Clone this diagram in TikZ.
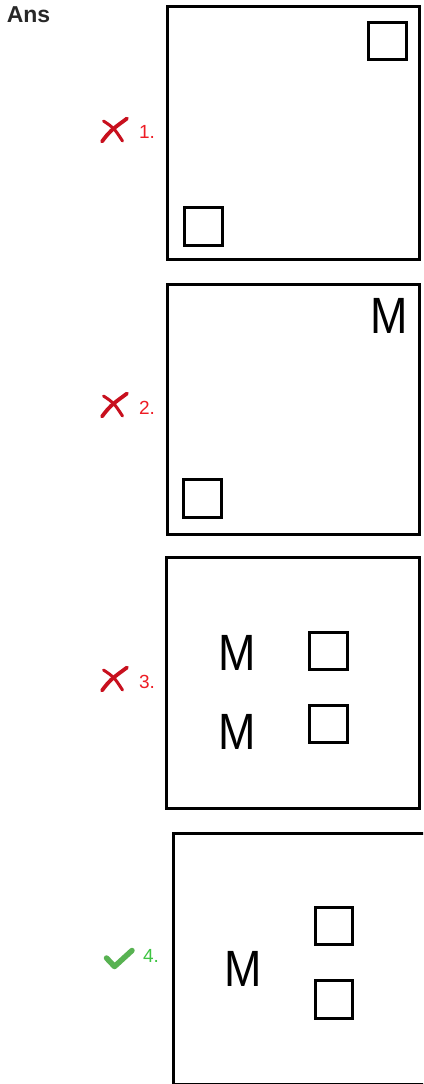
\documentclass[tikz,border=0pt]{standalone}
\usepackage{fontspec}
\setmainfont{Liberation Sans}
\definecolor{wrongred}{RGB}{238,28,36}
\definecolor{crossred}{RGB}{200,16,30}
\definecolor{rightgreen}{RGB}{62,196,66}
\definecolor{tickgreen}{RGB}{88,178,82}
\begin{document}
\begin{tikzpicture}[x=1pt,y=-1pt,
  panel/.style={draw=black,line width=3.2pt},
  sq/.style={draw=black,line width=3.2pt,rectangle,inner sep=0pt,minimum size=37.5pt},
  mletter/.style={inner sep=0pt,font=\fontsize{51}{51}\selectfont,xscale=0.88},
  numwrong/.style={inner sep=0pt,text=wrongred,font=\fontsize{19}{19}\selectfont},
  numright/.style={inner sep=0pt,text=rightgreen,font=\fontsize{19}{19}\selectfont},
  crossmark/.style={draw=crossred,line width=3.8pt,line cap=round},
  crossthin/.style={draw=crossred,line width=3pt,line cap=round},
  tickmark/.style={draw=tickgreen,line width=5.5pt,line cap=round,line join=round}]
\useasboundingbox (0,0) rectangle (423,1084);
\fill[white] (0,0) rectangle (423,1084);
\clip (0,0) rectangle (423,1084);

\node[inner sep=0pt,font=\bfseries\fontsize{23}{23}\selectfont,text={rgb,255:red,40;green,40;blue,40}] (ans) at (28.5,15) {Ans};

% panel 1
\draw[panel] (167.5,6.5) rectangle (419.5,259.5);
\node[sq] (p1a) at (387.5,41) {};
\node[sq] (p1b) at (203.5,226.5) {};
\node[numwrong] (n1) at (147,132) {1.};
\draw[crossmark] (102,141.5) .. controls (110,131) .. (127,118.5);
\draw[crossthin] (103.5,121) .. controls (114,128) .. (122.5,141);

% panel 2
\draw[panel] (167.5,284.5) rectangle (419.5,534.5);
\node[mletter] (m2) at (389,315.5) {M};
\node[sq] (p2a) at (202.5,498.5) {};
\node[numwrong] (n2) at (147,408) {2.};
\draw[crossmark] (102,416.5) .. controls (110,406) .. (127,393.5);
\draw[crossthin] (103.5,396) .. controls (114,403) .. (122.5,416);

% panel 3
\draw[panel] (166.5,557.5) rectangle (419.5,808.5);
\node[mletter] (m3a) at (237,652.5) {M};
\node[mletter] (m3b) at (237,731.5) {M};
\node[sq] (p3a) at (328.5,651) {};
\node[sq] (p3b) at (328.5,724) {};
\node[numwrong] (n3) at (147,681.5) {3.};
\draw[crossmark] (102,690.5) .. controls (110,680) .. (127,667.5);
\draw[crossthin] (103.5,670) .. controls (114,677) .. (122.5,690);

% panel 4
\draw[panel] (173.5,833.5) rectangle (440,1084.5);
\node[mletter] (m4) at (243,968.5) {M};
\node[sq] (p4a) at (334,926) {};
\node[sq] (p4b) at (334,999.5) {};
\node[numright] (n4) at (151,956) {4.};
\draw[tickmark] (106.5,958) -- (114.5,966.5) -- (132,950.5);
\end{tikzpicture}
\end{document}
